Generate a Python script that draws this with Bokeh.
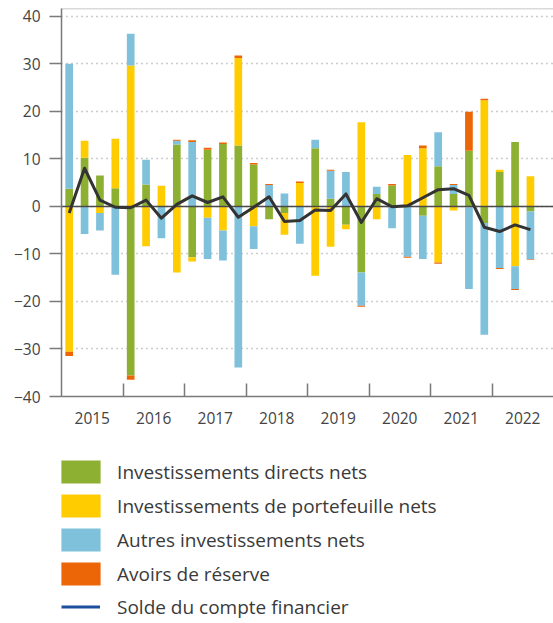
import numpy as np
from bokeh.plotting import figure
from bokeh.layouts import column
from bokeh.models import FixedTicker, Legend, LegendItem
from bokeh.embed import file_html
from bokeh.resources import INLINE

years = ["2015", "2016", "2017", "2018", "2019", "2020", "2021", "2022"]

direct = [3.7, 10.2, 6.5, 3.8, -35.6, 4.6, 0.0, 13.0,
          -10.7, 11.9, 13.1, 12.8, 8.8, -2.7, -1.4, 0.0,
          12.2, 1.6, -3.9, -13.9, 2.6, 4.4, 0.0, -2.0,
          8.4, 2.6, 11.7, -3.5, 7.2, 13.5, -1.1]
portfolio = [-30.6, 3.6, -1.4, 10.4, 29.6, -8.4, 4.3, -13.9,
             -0.9, -2.4, -5.1, 18.4, -4.2, 0.0, -4.6, 4.9,
             -14.6, -8.5, -0.9, 17.7, -2.7, 0.0, 10.8, 12.2,
             -11.8, -0.9, -0.2, 22.3, 0.5, -12.6, 6.3]
other = [26.3, -5.8, -3.7, -14.4, 6.7, 5.2, -6.7, 0.8,
         13.5, -8.7, -6.3, -33.9, -4.8, 4.5, 2.7, -7.9,
         1.8, 5.9, 7.2, -7.0, 1.5, -4.6, -10.6, -9.1,
         7.2, 1.9, -17.2, -23.5, -13.0, -4.8, -10.1]
reserve = [-0.9, 0.0, 0.0, 0.0, -0.9, 0.0, 0.0, 0.2,
           0.4, 0.4, 0.3, 0.5, 0.3, 0.2, 0.0, 0.3,
           0.0, 0.2, 0.0, -0.2, 0.0, 0.3, -0.2, 0.6,
           -0.3, 0.2, 8.2, 0.3, -0.2, -0.2, -0.1]
balance = [-1.4, 8.0, 1.3, -0.2, -0.3, 1.3, -2.5, 0.4,
           2.2, 0.8, 2.0, -2.3, -0.2, 2.0, -3.2, -3.0,
           -0.8, -0.9, 2.6, -3.4, 1.6, -0.1, 0.1, 1.8,
           3.5, 3.7, 2.3, -4.4, -5.3, -3.9, -4.9]

labels = ["Investissements directs nets", "Investissements de portefeuille nets",
          "Autres investissements nets", "Avoirs de réserve"]
line_label = "Solde du compte financier"
colors = ["#8DB032", "#FFCC00", "#7FC1DB", "#EC6608"]
line_color = "#333333"
legend_line_color = "#1B4F9C"

FONT = "Open Sans"

# stacked segments (positive and negative parts stacked separately)
x = np.arange(len(direct)) + 0.5
pos = np.zeros(len(x))
neg = np.zeros(len(x))
segments = []
for vals in [direct, portfolio, other, reserve]:
    v = np.array(vals, dtype=float)
    bottom = np.where(v >= 0, pos, neg)
    tp = bottom + v
    pos = np.where(v >= 0, tp, pos)
    neg = np.where(v < 0, tp, neg)
    segments.append((bottom, tp))

# main chart
p = figure(width=553, height=436, x_range=(0, 32), y_range=(-40, 41.6),
           output_backend="svg", toolbar_location=None,
           min_border_left=61, min_border_right=0, min_border_top=8, min_border_bottom=40)
p.outline_line_color = None

for (bottom, tp), col in zip(segments, colors):
    p.vbar(x=x, width=0.5, bottom=bottom, top=tp, fill_color=col, line_color=None)

p.hspan(y=[41.5], line_color="#b5b5b5", line_width=1.3)
p.hspan(y=[0], line_color="#4a4a4a", line_width=1.5)
p.line(x=x, y=balance, line_color=line_color, line_width=3, line_join="round")

yt = list(range(-40, 41, 10))
p.yaxis.ticker = FixedTicker(ticks=yt)
p.yaxis.major_label_overrides = {t: (("\u2212" + str(-t)) if t < 0 else str(t)) for t in yt}
p.yaxis.major_tick_out = 12
p.yaxis.major_tick_in = 0
p.yaxis.minor_tick_line_color = None
p.yaxis.major_label_standoff = 9
for ax in [p.xaxis[0], p.yaxis[0]]:
    ax.axis_line_color = "#7a7a7a"
    ax.axis_line_width = 1.5
    ax.major_tick_line_color = "#7a7a7a"
    ax.major_tick_line_width = 1.5
    ax.major_label_text_font = FONT
    ax.major_label_text_font_size = "15.5px"
    ax.major_label_text_color = "#444444"

centers = [2 + 4 * i for i in range(len(years))]
p.xaxis.ticker = FixedTicker(ticks=centers, minor_ticks=[4 * i for i in range(1, len(years))])
p.xaxis.major_label_overrides = {c: y for c, y in zip(centers, years)}
p.xaxis.major_tick_in = 0
p.xaxis.major_tick_out = 0
p.xaxis.minor_tick_in = 13
p.xaxis.minor_tick_out = 0
p.xaxis.minor_tick_line_color = "#7a7a7a"
p.xaxis.minor_tick_line_width = 1.5
p.xaxis.major_label_standoff = 15

p.xgrid.grid_line_color = None
p.ygrid.ticker = FixedTicker(ticks=yt)
p.ygrid.grid_line_color = "#9a9a9a"
p.ygrid.grid_line_dash = "1 4"
p.ygrid.grid_line_width = 1.5

# legend panel (hidden proxy renderers built from the same data)
lg = figure(width=553, height=187, x_range=(0, 32), y_range=(-40, 41.6),
            output_backend="svg", toolbar_location=None,
            x_axis_location=None, y_axis_location=None,
            min_border_left=61, min_border_right=0, min_border_top=0, min_border_bottom=0)
lg.outline_line_color = None
lg.grid.visible = False
proxies = [lg.vbar(x=x, width=0.5, bottom=b, top=t, fill_color=c, line_color=None, visible=False)
           for (b, t), c in zip(segments, colors)]
pline = lg.line(x=x, y=balance, line_color=legend_line_color, line_width=3, visible=False)

common = dict(orientation="vertical", padding=0, margin=0, border_line_color=None,
              background_fill_alpha=0, inactive_fill_alpha=0,
              label_text_font=FONT, label_text_font_size="19px",
              label_text_color="#3a3a3a")
leg1 = Legend(items=[LegendItem(label=l, renderers=[r]) for l, r in zip(labels, proxies)],
              location=(-4.9, 34.9), glyph_width=49, glyph_height=29, label_height=29,
              spacing=5, label_standoff=12, **common)
leg2 = Legend(items=[LegendItem(label=line_label, renderers=[pline])],
              location=(0, 3.5), glyph_width=39, glyph_height=23, label_height=23,
              spacing=0, label_standoff=17, **common)
lg.add_layout(leg1, "center")
lg.add_layout(leg2, "center")

layout = column(p, lg, spacing=0)
open("out.html", "w").write(file_html(layout, INLINE))
